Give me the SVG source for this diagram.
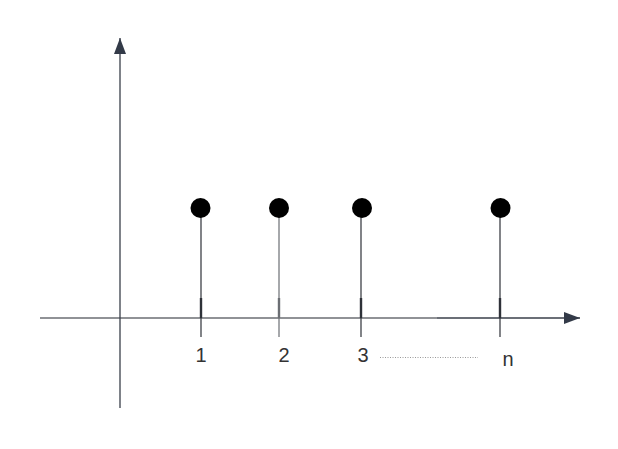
<svg xmlns="http://www.w3.org/2000/svg" width="618" height="449" viewBox="0 0 618 449">
<defs>
<style>
.ax{stroke:#3a3f4a;stroke-width:1.3;fill:none}
.axl{stroke:#6b6e73;stroke-width:1.3;fill:none}
.stem{stroke:#2e3138;stroke-width:1.2;fill:none}
.tick{stroke:#2e3138;stroke-width:2.4;fill:none}
.dot{fill:#000}
.lbl{font-family:"Liberation Sans",Arial,sans-serif;font-size:20px;fill:#333;text-anchor:middle}
</style>
<marker id="arr" markerWidth="16" markerHeight="12" refX="16" refY="6" orient="auto" markerUnits="userSpaceOnUse">
<path d="M0,0 L16,6 L0,12 Z" fill="#333a48"/>
</marker>
</defs>
<rect width="618" height="449" fill="#fff"/>
<g id="connectors">
<line class="axl" x1="40" y1="318" x2="437" y2="318"/>
<line class="ax" x1="437" y1="318" x2="580" y2="318" marker-end="url(#arr)"/>
<line class="ax" x1="120" y1="408" x2="120" y2="38" marker-end="url(#arr)"/>
<line x1="380" y1="357.5" x2="478" y2="357.5" stroke="#999" stroke-width="1" stroke-dasharray="1,1.5"/>
</g>
<g id="stem1">
<line class="stem" x1="201" y1="208" x2="201" y2="337"/>
<line class="tick" x1="201" y1="298" x2="201" y2="318"/>
<circle class="dot" cx="200.5" cy="208" r="10"/>
<text class="lbl" x="201" y="362">1</text>
</g>
<g id="stem2">
<line class="stem" x1="279" y1="208" x2="279" y2="337" style="stroke:#6b6e73"/>
<line class="tick" x1="279" y1="298" x2="279" y2="318" style="stroke:#6b6e73"/>
<circle class="dot" cx="279" cy="208" r="10"/>
<text class="lbl" x="284" y="362">2</text>
</g>
<g id="stem3">
<line class="stem" x1="361" y1="208" x2="361" y2="337"/>
<line class="tick" x1="361" y1="298" x2="361" y2="318"/>
<circle class="dot" cx="362" cy="208" r="10"/>
<text class="lbl" x="363" y="362">3</text>
</g>
<g id="stemn">
<line class="stem" x1="500" y1="208" x2="500" y2="337"/>
<line class="tick" x1="500" y1="298" x2="500" y2="318"/>
<circle class="dot" cx="500.5" cy="208" r="10"/>
<text class="lbl" x="508" y="366">n</text>
</g>
</svg>
